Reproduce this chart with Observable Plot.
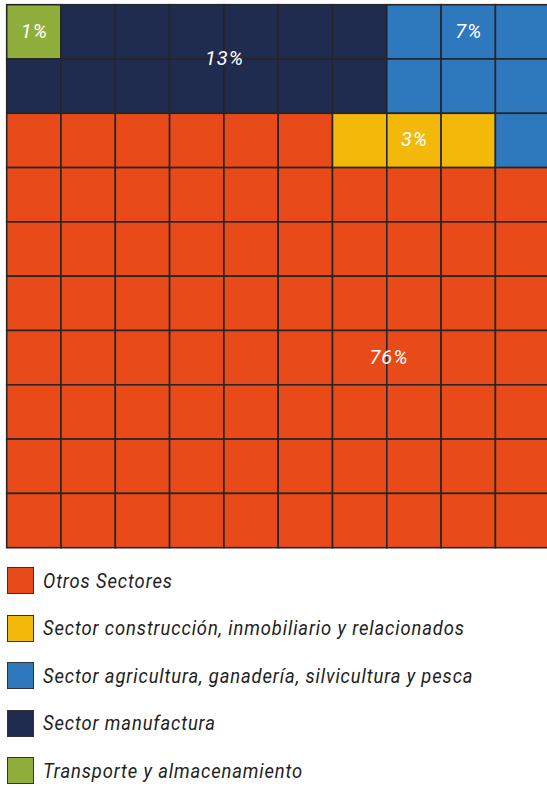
<!DOCTYPE html>
<html>
<head>
<meta charset="utf-8">
<script src="https://cdn.jsdelivr.net/npm/d3@7"></script>
<script src="https://cdn.jsdelivr.net/npm/@observablehq/plot@0.6"></script>
<style>
  html, body { margin: 0; padding: 0; background: #fff; }
  #chart svg { display: block; }
  .legend { margin-top: 15px; font-family: Roboto, sans-serif; font-style: italic; }
  .legend .row { display: flex; align-items: center; height: 27px; margin-bottom: 20.5px; }
  .legend .sw { width: 25px; height: 25px; border: 1px solid #333; margin-left: 7px; margin-right: 9px; box-sizing: content-box; flex: none; }
  .legend .lab { font-size: 21px; color: #222; letter-spacing: 1px; display: inline-block; white-space: nowrap; transform: scaleX(0.875); transform-origin: left center; }
</style>
</head>
<body>
<div id="chart"></div>
<div class="legend" id="legend"></div>
<script>
// categories and their shares (%)
const sectors = [
  "Otros Sectores",
  "Sector construcción, inmobiliario y relacionados",
  "Sector agricultura, ganadería, silvicultura y pesca",
  "Sector manufactura",
  "Transporte y almacenamiento"
];
const shares = [76, 3, 7, 13, 1];
const colors = ["#E84A19", "#F2B90A", "#2E78BE", "#1F2C50", "#8FAE3B"];
// waffle layout: each char = sector index, top row first
const gridRows = [
  "4333333222",
  "3333333222",
  "0000001112",
  "0000000000",
  "0000000000",
  "0000000000",
  "0000000000",
  "0000000000",
  "0000000000",
  "0000000000"
];
// label anchor positions in grid units (column, row)
const labelCol = [7.03, 7.5, 8.5, 4, 0.5];
const labelRow = [6.5, 2.5, 0.5, 1, 0.5];

const cells = [];
gridRows.forEach((r, row) => {
  [...r].forEach((ch, col) => {
    const k = +ch;
    cells.push({col, row, sector: sectors[k]});
  });
});
const labels = sectors.map((s, i) => ({sector: s, text: shares[i] + "%", col: labelCol[i], row: labelRow[i]}));

const chart = Plot.plot({
  width: 547,
  height: 552,
  margin: 0,
  x: {domain: [0, 10], range: [6.7, 549.7], axis: null},
  y: {domain: [0, 10], range: [4.7, 547.7], axis: null},
  color: {domain: sectors, range: colors},
  marks: [
    Plot.rect(cells, {
      x1: "col", x2: d => d.col + 1,
      y1: "row", y2: d => d.row + 1,
      fill: "sector",
      stroke: "#262626",
      strokeWidth: 1.6
    }),
    Plot.text(labels, {
      x: "col", y: "row", text: "text",
      fill: "white",
      fontSize: 20,
      fontStyle: "italic",
      fontFamily: "Roboto, sans-serif",
      textAnchor: "middle",
      dy: -1
    })
  ]
});
d3.select(chart).selectAll("text").style("letter-spacing", "1px");
document.getElementById("chart").appendChild(chart);

const legend = document.getElementById("legend");
sectors.forEach((s, i) => {
  const row = document.createElement("div");
  row.className = "row";
  const sw = document.createElement("div");
  sw.className = "sw";
  sw.style.background = colors[i];
  const lab = document.createElement("span");
  lab.className = "lab";
  lab.textContent = s;
  row.appendChild(sw);
  row.appendChild(lab);
  legend.appendChild(row);
});
</script>
</body>
</html>
